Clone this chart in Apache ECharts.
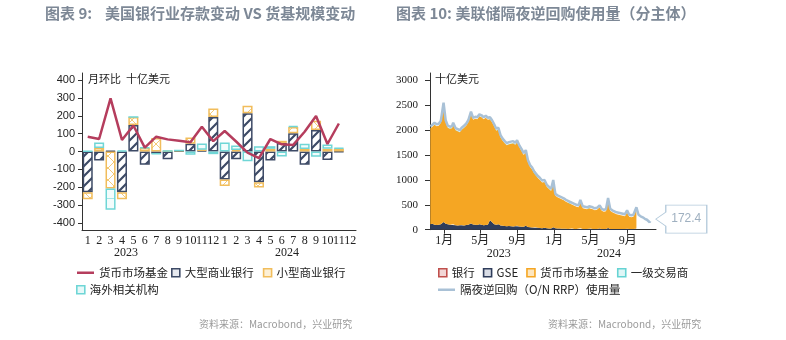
<!DOCTYPE html>
<html>
<head>
<meta charset="utf-8">
<script src="https://cdn.jsdelivr.net/npm/echarts@6/dist/echarts.min.js"></script>
<style>
  body { margin: 0; background: #fff; }
  #wrap { position: relative; width: 786px; height: 340px; }
  #left { position: absolute; left: 0; top: 0; width: 393px; height: 340px; }
  #right { position: absolute; left: 393px; top: 0; width: 393px; height: 340px; }
</style>
</head>
<body>
<div id="wrap"><div id="left"></div><div id="right"></div></div>
<script>
// ---------- 图表 9：月环比，十亿美元 ----------
const monthLabels = ['1','2','3','4','5','6','7','8','9','10','11','12',
                     '1','2','3','4','5','6','7','8','9','10','11','12'];
const yearLabels9 = ['2023', '2024'];
const yTicks9 = [-400, -300, -200, -100, 0, 100, 200, 300, 400];

// 货币市场基金（折线）
const mmfChange = [83, 70, 298, 65, 146, 22, 83, 68, 60, 52, 139, 58,
                   115, 56, -6, -37, 70, 40, 37, 111, 199, 42, 157, null];
// 大型商业银行
const largeBanks = [-228, -50, 4, -228, 148, -74, -11, -43, 3, 44, 5, 194,
                    -157, -43, 215, -172, -50, 48, 102, -74, 120, -48, -3, null];
// 小型商业银行
const smallBanks = [-40, 20, -207, -40, 46, 20, 75, 3, 3, 34, 5, 47,
                    -37, 8, 42, -30, 15, 12, 35, 14, 52, 15, 16, null];
// 海外相关机构
const foreignInst = [3, 30, -120, 5, 0, 3, -3, 0, 0, -18, 35, -15,
                     50, 25, -55, 30, 15, -28, 5, 30, -30, 24, 4, null];

// ---------- 图表 10：十亿美元 ----------
const rrpDates = [
  '2022-11-16','2022-11-23','2022-11-30','2022-12-07','2022-12-14','2022-12-21','2022-12-30',
  '2023-01-06','2023-01-13','2023-01-20','2023-01-27','2023-01-31',
  '2023-02-08','2023-02-15','2023-02-22','2023-02-28',
  '2023-03-08','2023-03-15','2023-03-22','2023-03-31',
  '2023-04-07','2023-04-14','2023-04-21','2023-04-28',
  '2023-05-05','2023-05-12','2023-05-19','2023-05-26',
  '2023-06-02','2023-06-09','2023-06-16','2023-06-23','2023-06-30',
  '2023-07-07','2023-07-14','2023-07-21','2023-07-28',
  '2023-08-04','2023-08-11','2023-08-18','2023-08-25','2023-08-31',
  '2023-09-08','2023-09-15','2023-09-22','2023-09-29',
  '2023-10-06','2023-10-13','2023-10-20','2023-10-27','2023-10-31',
  '2023-11-08','2023-11-15','2023-11-22','2023-11-30',
  '2023-12-08','2023-12-15','2023-12-22','2023-12-29',
  '2024-01-05','2024-01-12','2024-01-19','2024-01-26',
  '2024-02-02','2024-02-09','2024-02-16','2024-02-23','2024-02-29',
  '2024-03-08','2024-03-15','2024-03-22','2024-03-28',
  '2024-04-05','2024-04-12','2024-04-19','2024-04-26','2024-04-30',
  '2024-05-08','2024-05-15','2024-05-22','2024-05-31',
  '2024-06-07','2024-06-14','2024-06-21','2024-06-28',
  '2024-07-05','2024-07-12','2024-07-19','2024-07-26',
  '2024-08-02','2024-08-09','2024-08-16','2024-08-23','2024-08-30',
  '2024-09-06','2024-09-13','2024-09-20','2024-09-30',
  '2024-10-07','2024-10-14','2024-10-21','2024-10-28',
  '2024-11-04','2024-11-08','2024-11-13','2024-11-15'
];
// 隔夜逆回购（O/N RRP）使用量
const rrpTotal = [
  2080, 2110, 2150, 2120, 2130, 2190, 2554,
  2200, 2090, 2070, 2080, 2150,
  2040, 2020, 2000, 2050,
  2090, 2130, 2200, 2375,
  2250, 2270, 2260, 2320,
  2300, 2260, 2290, 2250,
  2260, 2200, 2120, 2030, 2050,
  1900, 1830, 1780, 1740,
  1760, 1770, 1780, 1750, 1800,
  1690, 1620, 1540, 1600,
  1400, 1300, 1250, 1170, 1210,
  1080, 1040, 990, 1000,
  900, 860, 820, 1000,
  720, 690, 670, 650,
  630, 600, 580, 560, 600,
  520, 500, 490, 600,
  470, 460, 450, 470, 510,
  450, 430, 440, 490,
  420, 400, 410, 640,
  420, 390, 370, 350,
  340, 330, 320, 310, 390,
  300, 290, 300, 450,
  300, 270, 250, 220,
  200, 170, 150, 172.4
];
// 分主体（截至 2024-09-30）
const rrpBanks = [
  0, 0, 0, 0, 0, 0, 4,
  0, 0, 0, 0, 1,
  0, 0, 0, 0,
  0, 0, 0, 3,
  0, 0, 0, 1,
  0, 0, 0, 0,
  0, 0, 0, 0, 2,
  0, 0, 0, 0,
  0, 0, 0, 0, 0,
  0, 0, 0, 2,
  0, 0, 0, 0, 0,
  0, 0, 0, 0,
  0, 0, 0, 2,
  0, 0, 0, 0,
  0, 0, 0, 0, 0,
  0, 0, 0, 1,
  0, 0, 0, 0, 0,
  0, 0, 0, 0,
  0, 0, 0, 1,
  0, 0, 0, 0,
  0, 0, 0, 0, 0,
  0, 0, 0, 1
];
const rrpGSE = [
  110, 120, 100, 95, 100, 110, 150,
  120, 110, 100, 95, 110,
  90, 85, 90, 95,
  85, 95, 100, 120,
  105, 100, 95, 110,
  100, 90, 95, 100,
  190, 150, 110, 100, 110,
  85, 80, 75, 70,
  75, 70, 65, 70, 80,
  65, 60, 60, 75,
  55, 50, 45, 40, 50,
  40, 35, 30, 40,
  30, 25, 25, 45,
  30, 25, 25, 20,
  20, 20, 15, 15, 25,
  15, 15, 15, 30,
  15, 15, 15, 20, 25,
  15, 15, 15, 25,
  15, 15, 15, 35,
  15, 15, 15, 15,
  15, 15, 15, 15, 20,
  15, 15, 15, 25
];
const rrpMMF = [
  1930, 1950, 2010, 1985, 1990, 2040, 2360,
  2040, 1940, 1930, 1945, 2000,
  1910, 1895, 1870, 1915,
  1965, 1995, 2060, 2215,
  2105, 2130, 2125, 2170,
  2160, 2130, 2155, 2110,
  2030, 2010, 1970, 1890, 1900,
  1775, 1710, 1665, 1630,
  1645, 1660, 1675, 1640, 1680,
  1585, 1520, 1440, 1485,
  1305, 1210, 1165, 1090, 1120,
  1000, 965, 920, 920,
  830, 795, 755, 915,
  650, 625, 605, 590,
  570, 540, 525, 505, 535,
  465, 445, 435, 530,
  415, 405, 395, 410, 445,
  395, 375, 385, 425,
  365, 345, 355, 565,
  365, 335, 315, 295,
  285, 275, 265, 255, 330,
  245, 235, 245, 385
];
const rrpDealers = [
  2, 2, 3, 2, 2, 3, 8,
  3, 2, 2, 2, 3,
  2, 2, 2, 3,
  2, 2, 3, 6,
  2, 2, 2, 3,
  2, 2, 2, 2,
  3, 2, 2, 2, 5,
  2, 2, 2, 2,
  2, 2, 2, 2, 3,
  2, 2, 2, 4,
  2, 2, 2, 2, 2,
  1, 1, 1, 2,
  1, 1, 1, 3,
  1, 1, 1, 1,
  1, 1, 1, 1, 2,
  1, 1, 1, 3,
  1, 1, 1, 1, 2,
  1, 1, 1, 2,
  1, 1, 1, 3,
  1, 1, 1, 1,
  1, 1, 1, 1, 2,
  1, 1, 1, 3
];
const rrpMonthTicks = ['2023-01-01','2023-05-01','2023-09-01','2024-01-01','2024-05-01','2024-09-01'];
const rrpYearTicks = ['2023-07-01', '2024-07-01'];
const rrpYTicks = [0, 500, 1000, 1500, 2000, 2500, 3000];
const rrpRange = ['2022-11-15', '2024-12-04'];

// ---------- 样式 ----------
const CJK = '"Noto Sans CJK SC", sans-serif';
const TITLE_COLOR = '#7d8896';
const C_LINE = '#b53d5d';
const C_LARGE = '#3d4a66';
const C_SMALL = '#f1bd5c';
const C_FOREIGN = '#6fd6d6';

function tile(w, h, paint) {
  const c = document.createElement('canvas');
  c.width = w; c.height = h;
  const g = c.getContext('2d');
  g.fillStyle = '#fff';
  g.fillRect(0, 0, w, h);
  paint(g, w, h);
  return c;
}
const hatchLarge = tile(10, 10, (g, w, h) => {
  g.strokeStyle = C_LARGE; g.lineWidth = 2.2;
  g.beginPath();
  g.moveTo(0, h); g.lineTo(w, 0);
  g.moveTo(-3, 3); g.lineTo(3, -3);
  g.moveTo(w - 3, h + 3); g.lineTo(w + 3, h - 3);
  g.stroke();
});
const hatchSmall = tile(12, 12, (g, w, h) => {
  g.strokeStyle = '#f3c978'; g.lineWidth = 1;
  g.beginPath();
  g.moveTo(0, 0); g.lineTo(w, h);
  g.moveTo(0, h); g.lineTo(w, 0);
  g.stroke();
});
const hatchForeign = tile(10, 12, (g, w, h) => {
  g.fillStyle = '#f3fcfc'; g.fillRect(0, 0, w, h);
  g.strokeStyle = '#a6e6e6'; g.lineWidth = 1;
  g.beginPath();
  g.moveTo(0, 6.5); g.lineTo(w, 6.5);
  g.stroke();
});

function txt(left, top, text, font, fill) {
  return { type: 'text', left, top, silent: true, style: { text, font, fill } };
}
const ts = (d) => Date.parse(d + 'T00:00:00Z');
const legendText = { fontFamily: CJK, fontSize: 11.5, color: '#222' };

// ---------- 左图 ----------
const chartL = echarts.init(document.getElementById('left'), null, { renderer: 'canvas' });
const barBase = { type: 'bar', stack: 'dep', barCategoryGap: '12%' };
chartL.setOption({
  animation: false,
  textStyle: { fontFamily: CJK },
  grid: { left: 82, right: 37, top: 73, bottom: 110, outerBoundsMode: 'none' },
  xAxis: {
    type: 'category', data: monthLabels,
    axisLine: { onZero: false, lineStyle: { color: '#333', width: 1 } },
    axisTick: { interval: 0, length: 4, lineStyle: { color: '#333' } },
    axisLabel: { interval: 0, color: '#222', fontFamily: '"Liberation Serif", serif', fontSize: 12, margin: 5 }
  },
  yAxis: {
    type: 'value', min: -440, max: 440,
    axisLine: { show: true, lineStyle: { color: '#333' } },
    axisTick: { show: true, length: 4, customValues: yTicks9, lineStyle: { color: '#333' } },
    axisLabel: { customValues: yTicks9, color: '#222', fontFamily: '"Liberation Sans", sans-serif', fontSize: 11, margin: 7 },
    splitLine: { show: false }
  },
  legend: [
    { data: ['货币市场基金'], left: 72, top: 262, icon: 'rect', itemWidth: 17, itemHeight: 2.5,
      itemGap: 8, textStyle: legendText, selectedMode: false },
    { data: [
        { name: '大型商业银行', itemStyle: { color: '#e6e9ef', borderColor: C_LARGE, borderWidth: 1.6 } },
        { name: '小型商业银行', itemStyle: { color: '#fdf0d6', borderColor: C_SMALL, borderWidth: 1.6 } }
      ],
      left: 166, top: 262, icon: 'rect', itemWidth: 8, itemHeight: 8, itemGap: 9,
      textStyle: legendText, selectedMode: false },
    { data: [
        { name: '海外相关机构', itemStyle: { color: '#e6f8f8', borderColor: C_FOREIGN, borderWidth: 1.6 } }
      ],
      left: 71, top: 279, icon: 'rect', itemWidth: 8, itemHeight: 8,
      textStyle: legendText, selectedMode: false }
  ],
  series: [
    Object.assign({}, barBase, { name: '大型商业银行', data: largeBanks, z: 2,
      itemStyle: { color: { image: hatchLarge, repeat: 'repeat' }, borderColor: C_LARGE, borderWidth: 1.5 } }),
    Object.assign({}, barBase, { name: '小型商业银行', data: smallBanks, z: 2,
      itemStyle: { color: { image: hatchSmall, repeat: 'repeat' }, borderColor: C_SMALL, borderWidth: 1.5 } }),
    Object.assign({}, barBase, { name: '海外相关机构', data: foreignInst, z: 2,
      itemStyle: { color: { image: hatchForeign, repeat: 'repeat' }, borderColor: C_FOREIGN, borderWidth: 1.5 } }),
    { name: '货币市场基金', type: 'line', data: mmfChange, symbol: 'none', z: 5,
      lineStyle: { color: C_LINE, width: 2.5 }, itemStyle: { color: C_LINE } }
  ],
  graphic: [
    txt(45, 6, '图表 9:', 'bold 15px ' + CJK, TITLE_COLOR),
    txt(105, 6, '美国银行业存款变动 VS 货基规模变动', 'bold 15px ' + CJK, TITLE_COLOR),
    txt(88, 73, '月环比  十亿美元', '11px ' + CJK, '#222'),
    txt(114, 247, yearLabels9[0], '12px "Liberation Serif", serif', '#222'),
    txt(275, 247, yearLabels9[1], '12px "Liberation Serif", serif', '#222'),
    txt(199, 319, '资料来源：Macrobond，兴业研究', '10px ' + CJK, '#9a9a9a')
  ]
});

// ---------- 右图 ----------
// 数据画在时间轴（xAxis 0）上；月份与年份标签由两根同范围的数值轴给出
const chartR = echarts.init(document.getElementById('right'), null, { renderer: 'canvas' });
const pairs = (vals) => vals.map((v, i) => [ts(rrpDates[i]), v]);
const areaBase = { type: 'line', stack: 'rrp', symbol: 'none', showSymbol: false,
                   lineStyle: { width: 0 }, areaStyle: { opacity: 1 } };
const C_BANK = '#c0504d', C_GSE = '#2f3d5b', C_MMF = '#f5a623', C_DEALER = '#66d3d3', C_RRP = '#a9c1d6';
const lastIdx = rrpTotal.length - 1;
const monthFmt = (v) => (new Date(v).getUTCMonth() + 1) + '月';
const yearFmt = (v) => String(new Date(v).getUTCFullYear());
const xMin = ts(rrpRange[0]), xMax = ts(rrpRange[1]);
chartR.setOption({
  animation: false,
  textStyle: { fontFamily: CJK },
  grid: { left: 37, right: 130, top: 73, bottom: 110.3, outerBoundsMode: 'none' },
  xAxis: [
    { type: 'time', min: xMin, max: xMax, position: 'bottom',
      axisLine: { lineStyle: { color: '#333' } },
      axisTick: { show: false }, axisLabel: { show: false }, splitLine: { show: false } },
    { type: 'value', min: xMin, max: xMax, position: 'bottom',
      axisLine: { show: false },
      axisTick: { show: true, length: 4, customValues: rrpMonthTicks.map(ts), lineStyle: { color: '#333' } },
      axisLabel: { customValues: rrpMonthTicks.map(ts), color: '#222', fontSize: 12, margin: 5,
        fontFamily: '"Liberation Serif", "Noto Sans CJK SC", serif', formatter: monthFmt },
      splitLine: { show: false } },
    { type: 'value', min: xMin, max: xMax, position: 'bottom', offset: 13,
      axisLine: { show: false }, axisTick: { show: false }, splitLine: { show: false },
      axisLabel: { customValues: rrpYearTicks.map(ts), color: '#222', fontSize: 12, margin: 5,
        fontFamily: '"Liberation Serif", serif', formatter: yearFmt } }
  ],
  yAxis: {
    type: 'value', min: 0, max: 3150,
    axisLine: { show: true, lineStyle: { color: '#333' } },
    axisTick: { show: true, length: 5, customValues: rrpYTicks, lineStyle: { color: '#333' } },
    axisLabel: { customValues: rrpYTicks, color: '#222', fontSize: 11, margin: 12,
      fontFamily: '"Liberation Serif", serif', formatter: (v) => String(v) },
    splitLine: { show: false }
  },
  legend: [
    { data: [
        { name: '银行', itemStyle: { color: '#f2d6d6', borderColor: C_BANK, borderWidth: 1.6 } },
        { name: 'GSE', itemStyle: { color: '#d9dde6', borderColor: C_GSE, borderWidth: 1.6 } },
        { name: '货币市场基金', itemStyle: { color: '#fde6bf', borderColor: C_MMF, borderWidth: 1.6 } },
        { name: '一级交易商', itemStyle: { color: '#dff6f6', borderColor: C_DEALER, borderWidth: 1.6 } }
      ],
      left: 40, top: 262, icon: 'rect', itemWidth: 8, itemHeight: 8, itemGap: 8,
      textStyle: legendText, selectedMode: false },
    { data: ['隔夜逆回购（O/N RRP）使用量'], left: 40, top: 279, icon: 'rect', itemWidth: 17, itemHeight: 2.5,
      textStyle: legendText, selectedMode: false }
  ],
  series: [
    Object.assign({}, areaBase, { name: '银行', data: pairs(rrpBanks), itemStyle: { color: C_BANK }, areaStyle: { color: C_BANK, opacity: 1 } }),
    Object.assign({}, areaBase, { name: 'GSE', data: pairs(rrpGSE), itemStyle: { color: C_GSE }, areaStyle: { color: C_GSE, opacity: 1 } }),
    Object.assign({}, areaBase, { name: '货币市场基金', data: pairs(rrpMMF), itemStyle: { color: C_MMF }, areaStyle: { color: C_MMF, opacity: 1 } }),
    Object.assign({}, areaBase, { name: '一级交易商', data: pairs(rrpDealers), itemStyle: { color: C_DEALER }, areaStyle: { color: C_DEALER, opacity: 1 } }),
    { name: '隔夜逆回购（O/N RRP）使用量', type: 'line', data: pairs(rrpTotal), symbol: 'none', z: 4,
      lineStyle: { color: C_RRP, width: 2.5 }, itemStyle: { color: C_RRP },
      markPoint: {
        symbol: 'path://M0,14L10,7L10,0L51,0L51,28L10,28L10,21Z',
        symbolSize: [51, 28], symbolOffset: [31, -2], symbolKeepAspect: false,
        itemStyle: { color: '#fff', borderColor: '#b4cadb', borderWidth: 1 },
        label: { show: true, position: 'inside', offset: [5, 0], color: '#9fb0c0', fontSize: 12,
          fontFamily: '"Liberation Sans", sans-serif', formatter: (p) => String(p.value) },
        data: [{ coord: [ts(rrpDates[lastIdx]), rrpTotal[lastIdx]], value: rrpTotal[lastIdx] }]
      } }
  ],
  graphic: [
    txt(3, 6, '图表 10: 美联储隔夜逆回购使用量（分主体）', 'bold 15px ' + CJK, TITLE_COLOR),
    txt(42, 73, '十亿美元', '11px ' + CJK, '#222'),
    txt(155, 319, '资料来源：Macrobond，兴业研究', '10px ' + CJK, '#9a9a9a')
  ]
});
</script>
</body>
</html>
